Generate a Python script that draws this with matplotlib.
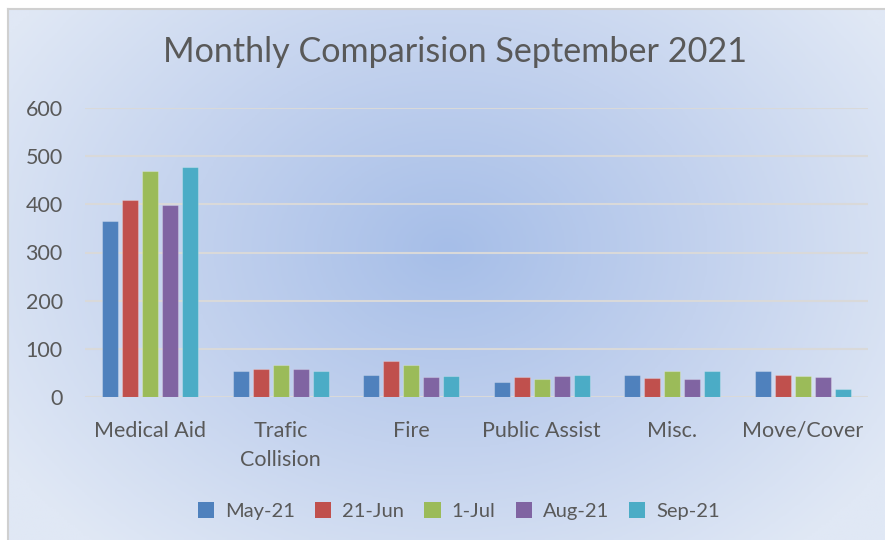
import numpy as np
import matplotlib
matplotlib.use("Agg")
import matplotlib.pyplot as plt
from matplotlib.colors import LinearSegmentedColormap

categories = ["Medical Aid", "Trafic\nCollision", "Fire", "Public Assist", "Misc.", "Move/Cover"]
series_names = ["May-21", "21-Jun", "1-Jul", "Aug-21", "Sep-21"]
may21 = [365, 55, 45, 32, 45, 55]
jun21 = [409, 59, 75, 42, 39, 45]
jul1 = [470, 67, 67, 38, 55, 43]
aug21 = [398, 59, 42, 43, 37, 41]
sep21 = [478, 55, 44, 45, 54, 16]
yticks = [0, 100, 200, 300, 400, 500, 600]
title = "Monthly Comparision September 2021"

colors = ["#4f81bd", "#c0504d", "#9bbb59", "#8064a2", "#4bacc6"]
txt = "#595959"
plt.rcParams['font.family'] = ['Lato', 'DejaVu Sans']

W, H = 885, 540
fig = plt.figure(figsize=(W/100, H/100), dpi=100)
fig.patch.set_facecolor("white")

# background gradient
bg = fig.add_axes([8/W, 0, 1-8/W, 1-9/H])
yy, xx = np.mgrid[0:200, 0:320]
cx, cy = 160, 90
d = np.sqrt(((xx-cx)/190.0)**2 + ((yy-cy)/150.0)**2)
d = np.clip(d, 0, 1)
cmap = LinearSegmentedColormap.from_list("g", ["#a6bee8", "#c3d2ee", "#e0e8f5"])
bg.imshow(d, cmap=cmap, aspect="auto", extent=[0, 1, 0, 1], origin="upper")
bg.set_xlim(0, 1); bg.set_ylim(0, 1)
for s in ["top", "bottom", "right"]:
    bg.spines[s].set_visible(False)
bg.spines["left"].set_color("#d0d0d0")
bg.spines["left"].set_linewidth(1.5)
bg.set_xticks([]); bg.set_yticks([])
fig.add_artist(plt.Line2D([8/W, 1], [1-9/H, 1-9/H], color="#d0d0d0", lw=1.5))

ax = fig.add_axes([85/W, 1-397/H, (868-85)/W, (397-108)/H])
ax.patch.set_alpha(0)
x = np.arange(len(categories))
data = [may21, jun21, jul1, aug21, sep21]
pitch = 0.153
width = 0.122
for i, (vals, name, c) in enumerate(zip(data, series_names, colors)):
    ax.bar(x + (i-2)*pitch, vals, width, color=c, label=name, zorder=3,
           edgecolor=(1, 1, 1, 0.25), linewidth=0.8)
ax.set_xlim(-0.5, len(categories)-0.5)
ax.set_ylim(0, 600)
ax.set_yticks(yticks)
ax.grid(axis="y", color="#d9d9d9", lw=1.5, zorder=0)
for s in ax.spines.values():
    s.set_visible(False)
ax.tick_params(length=0, labelsize=15.5, colors=txt)
ax.tick_params(axis="y", pad=16)
ax.tick_params(axis="x", pad=17)
ax.set_xticks(x)
ax.set_xticklabels(categories, linespacing=1.6)
for lab in ax.get_xticklabels():
    lab.set_verticalalignment("top")

fig.text(455/W, 1-52/H, title, ha="center", va="center", fontsize=24.6, color=txt)

leg = fig.legend(loc="center", bbox_to_anchor=(459/W, 1-511/H), ncol=5, frameon=False,
                 fontsize=14.5, handlelength=0.8, handleheight=0.8, handletextpad=0.55,
                 columnspacing=1.0, labelcolor=txt)
for h in leg.legend_handles:
    h.set_edgecolor("none")

fig.savefig("out.png", dpi=100)
